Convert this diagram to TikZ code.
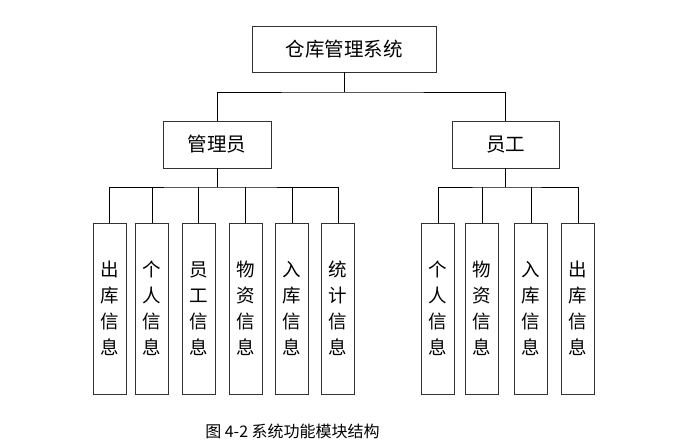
\documentclass[tikz,border=0pt]{standalone}
\usepackage{fontspec}
\newfontfamily\cjk{Noto Sans CJK SC}
\usepackage{tikz}

\begin{document}
\begin{tikzpicture}[x=1pt,y=-1pt,line width=0.9pt,
  box/.style={draw=black!80,inner sep=0pt,font=\cjk\fontsize{19.5}{26}\selectfont},
  leafbox/.style={box,minimum width=33pt,minimum height=171pt,align=center,
    font=\cjk\fontsize{18.5}{26}\selectfont}]
\useasboundingbox (0,0) rectangle (682,447);
\node[box,minimum width=184pt,minimum height=46pt] (sys) at (344,49) {仓库管理系统};
\node[box,minimum width=108pt,minimum height=47pt] (adm) at (217,144.5) {管理员};
\node[box,minimum width=107pt,minimum height=47pt] (emp) at (505.5,144.5) {员工};
% admin modules
\node[leafbox] (a1) at (109.5,308.5) {出\\库\\信\\息};
\node[leafbox] (a2) at (152,308.5) {个\\人\\信\\息};
\node[leafbox] (a3) at (198.5,308.5) {员\\工\\信\\息};
\node[leafbox] (a4) at (245.5,308.5) {物\\资\\信\\息};
\node[leafbox] (a5) at (292,308.5) {入\\库\\信\\息};
\node[leafbox] (a6) at (338,308.5) {统\\计\\信\\息};
% employee modules
\node[leafbox] (e1) at (438,308.5) {个\\人\\信\\息};
\node[leafbox] (e2) at (482,308.5) {物\\资\\信\\息};
\node[leafbox] (e3) at (531,308.5) {入\\库\\信\\息};
\node[leafbox] (e4) at (578,308.5) {出\\库\\信\\息};
\node[font=\cjk\fontsize{16}{18}\selectfont] (cap) at (292.5,431) {图 4-2 系统功能模块结构};
% connectors
\coordinate (sysbus) at (344,92);
\coordinate (admbus) at (217,187);
\coordinate (empbus) at (505.5,187);
\draw (sys.south) -- (sysbus);
\draw (adm.north) |- (sysbus) -| (emp.north);
\draw (adm.south) -- (admbus);
\draw (a1.north) |- (admbus) -| (a6.north);
\foreach \n in {a2,a3,a4,a5} \draw (\n.north) -- (\n.north |- admbus);
\draw (emp.south) -- (empbus);
\draw (e1.north) |- (empbus) -| (e4.north);
\foreach \n in {e2,e3} \draw (\n.north) -- (\n.north |- empbus);
\end{tikzpicture}
\end{document}
